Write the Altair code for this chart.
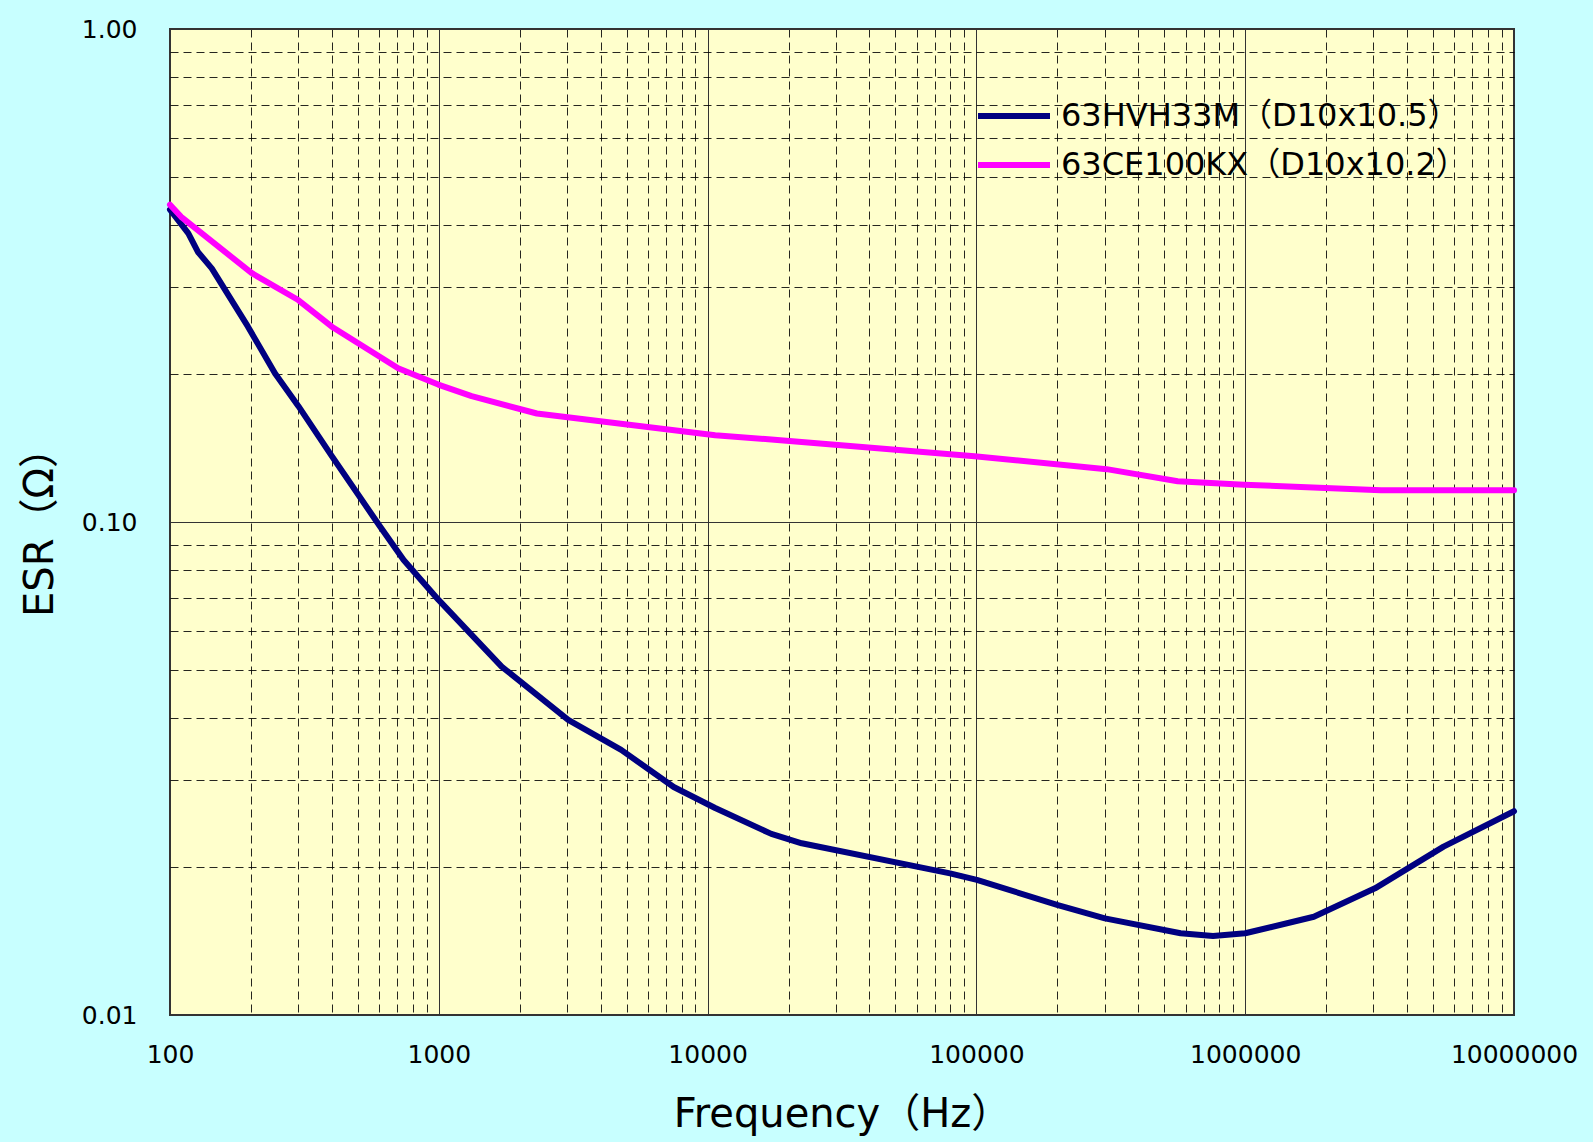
import altair as alt
import pandas as pd

series_names = ["63HVH33M（D10x10.5）", "63CE100KX（D10x10.2）"]
series_colors = ["#000080", "#FF00FF"]

freq_hvh = [100, 117, 127, 143, 195, 246, 300, 400, 600, 740, 998, 1713, 3030,
            4770, 7480, 10670, 17260, 22400, 79800, 100400, 201000, 300600, 575000,
            759000, 1000000, 1800000, 3040000, 5470000, 10000000]
esr_hvh = [0.430, 0.385, 0.353, 0.327, 0.249, 0.200, 0.172, 0.136, 0.0985,
           0.0837, 0.0695, 0.0509, 0.0397, 0.0345, 0.0290, 0.0263, 0.0233, 0.0223,
           0.01938, 0.0188, 0.0167, 0.0157, 0.01465, 0.01446, 0.01465, 0.01582,
           0.01807, 0.02195, 0.0259]

freq_ce = [100, 110, 201, 300, 400, 706, 995, 1325, 2317, 10670, 17260, 98400,
           305000, 561000, 990000, 3200000, 10000000]
esr_ce = [0.440, 0.416, 0.320, 0.282, 0.249, 0.205, 0.190, 0.180, 0.166, 0.150,
          0.147, 0.136, 0.128, 0.121, 0.119, 0.116, 0.116]

x_ticks = [m * 10 ** k for k in range(2, 7) for m in range(1, 10)] + [10 ** 7]
y_ticks = [round(m * 10 ** k, 4) for k in (-2, -1) for m in range(1, 10)] + [1.0]

rows = []
for f, e in zip(freq_hvh, esr_hvh):
    rows.append({"freq": f, "esr": e, "series": series_names[0], "order": len(rows)})
for f, e in zip(freq_ce, esr_ce):
    rows.append({"freq": f, "esr": e, "series": series_names[1], "order": len(rows)})
df = pd.DataFrame(rows)

dec = "abs(log(datum.value)/LN10 - round(log(datum.value)/LN10)) < 0.001"
FONT = "DejaVu Sans, Noto Sans CJK JP"

grid_common = dict(
    grid=True,
    ticks=False,
    domain=False,
    labelOverlap=False,
    labelFlush=False,
    labelFont=FONT,
    labelFontSize=25,
    labelColor="#000000",
    titleFont=FONT,
    titleFontSize=40,
    titleFontWeight="normal",
    titleColor="#000000",
    gridColor={"condition": {"test": dec, "value": "#333333"}, "value": "#000000"},
    gridDash={"condition": {"test": dec, "value": []}, "value": [8, 5]},
    gridWidth=1,
    gridOpacity={"condition": {"test": dec, "value": 1}, "value": 0.85},
)

chart = alt.Chart(df).mark_line(strokeWidth=6, interpolate="linear", strokeCap="round",
                                strokeJoin="round").encode(
    x=alt.X("freq:Q",
            scale=alt.Scale(type="log", domain=[100, 10000000], nice=False),
            axis=alt.Axis(values=x_ticks,
                          labelExpr=f"({dec}) ? format(datum.value, 'd') : ''",
                          labelPadding=27, titlePadding=27,
                          title="Frequency（Hz）", **grid_common)),
    y=alt.Y("esr:Q",
            scale=alt.Scale(type="log", domain=[0.01, 1.0], nice=False),
            axis=alt.Axis(values=y_ticks,
                          labelExpr=f"({dec}) ? format(datum.value, '.2f') : ''",
                          labelPadding=33, titlePadding=21,
                          title="ESR（Ω）", **grid_common)),
    color=alt.Color("series:N",
                    scale=alt.Scale(domain=series_names, range=series_colors),
                    legend=alt.Legend(title=None, orient="none", legendX=805, legendY=66,
                                      symbolType="M-1,0H3", symbolStrokeWidth=6,
                                      symbolSize=1296, rowPadding=12,
                                      labelFont=FONT, labelFontSize=32, labelLimit=0,
                                      labelColor="#000000", labelOffset=44,
                                      padding=0)),
    order="order:Q",
).properties(
    width=1344,
    height=986,
    background="#C8FFFF",
    padding={"left": 170, "top": 29, "right": 79, "bottom": 127},
    autosize=alt.AutoSizeParams(type="none"),
).configure_view(
    fill="#FFFFCC",
    stroke="#333333",
    strokeWidth=2,
)

chart.save("out.html", embed_options={"renderer": "svg", "actions": False})
